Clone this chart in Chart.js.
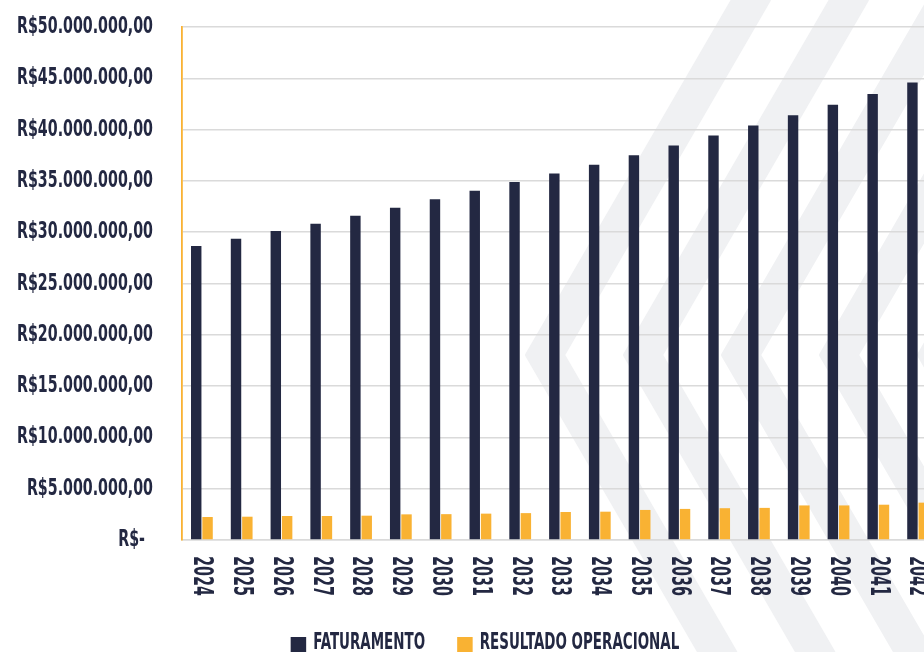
<!DOCTYPE html>
<html>
<head>
<meta charset="utf-8">
<script src="https://cdn.jsdelivr.net/npm/chart.js@4.4.1/dist/chart.umd.min.js"></script>
<style>
  html, body { margin: 0; padding: 0; background: #fff; overflow: hidden; }
  #chart { display: block; }
</style>
</head>
<body>
<canvas id="chart" width="940" height="652"></canvas>
<script>
const years = ["2024", "2025", "2026", "2027", "2028", "2029", "2030", "2031", "2032", "2033",
    "2034", "2035", "2036", "2037", "2038", "2039", "2040", "2041", "2042"];
const faturamento = [28650000, 29370000, 30120000, 30830000, 31600000, 32390000, 33200000, 34050000,
    34900000, 35730000, 36580000, 37510000, 38450000, 39420000, 40400000, 41410000, 42430000,
    43480000, 44580000];
const resultado = [2240000, 2270000, 2340000, 2340000, 2370000, 2500000, 2520000, 2570000, 2620000,
    2730000, 2760000, 2930000, 3030000, 3100000, 3130000, 3370000, 3370000, 3440000, 3640000];
const seriesNames = ["FATURAMENTO", "RESULTADO OPERACIONAL"];
const yMax = 50000000;
const yStep = 5000000;

const navy = "#232842";
const orange = "#f9b233";
const gridGray = "#dadada";
const fontFamily = "'DejaVu Sans Condensed', 'DejaVu Sans', sans-serif";

function formatReais(v) {
    if (v === 0) return "R$-";
    const parts = [];
    let n = Math.round(v);
    while (n >= 1000) {
        parts.unshift(String(n % 1000).padStart(3, "0"));
        n = Math.floor(n / 1000);
    }
    parts.unshift(String(n));
    return "R$" + parts.join(".") + ",00";
}

// draws text squeezed horizontally so it looks like a condensed display face
function narrowText(ctx, text, x, y, sx, align) {
    const w = ctx.measureText(text).width * sx;
    const left = align === "right" ? x - w : x;
    ctx.save();
    ctx.translate(left, y);
    ctx.scale(sx, 1);
    ctx.textAlign = "left";
    ctx.fillText(text, 0, 0);
    ctx.restore();
}

// light chevron watermark behind the plot
const watermark = {
    id: "watermark",
    beforeDraw(chart) {
        const { ctx, width, height } = chart;
        ctx.save();
        ctx.fillStyle = "#fff";
        ctx.fillRect(0, 0, width, height);
        ctx.fillStyle = "#f0f1f3";
        ctx.strokeStyle = "#f0f1f3";
        ctx.lineJoin = "round";
        ctx.lineWidth = 4;
        const tipY = 355, slope = 0.58, band = 36;
        for (let k = 0; k < 5; k++) {
            const x0 = 527 + k * 98;
            ctx.beginPath();
            ctx.moveTo(x0, tipY);
            ctx.lineTo(x0 + slope * tipY, 0);
            ctx.lineTo(x0 + band + slope * tipY, 0);
            ctx.lineTo(x0 + band, tipY);
            ctx.lineTo(x0 + band + slope * (height - tipY), height);
            ctx.lineTo(x0 + slope * (height - tipY), height);
            ctx.closePath();
            ctx.fill();
            ctx.stroke();
        }
        ctx.restore();
    }
};

// axis labels and legend in a tall condensed style
const labelsPlugin = {
    id: "condensedLabels",
    afterDraw(chart) {
        const { ctx, chartArea } = chart;
        const x = chart.scales.x;
        const y = chart.scales.y;
        ctx.save();
        ctx.fillStyle = navy;
        ctx.textBaseline = "alphabetic";

        // y axis: money labels
        ctx.font = `bold 23px ${fontFamily}`;
        const sy = 136 / ctx.measureText(formatReais(yMax)).width;
        y.ticks.forEach((t) => {
            const py = y.getPixelForValue(t.value);
            const label = formatReais(t.value);
            const right = t.value === 0 ? chartArea.left - 37 : chartArea.left - 29;
            narrowText(ctx, label, right, py + 6, sy, "right");
        });

        // x axis: years, rotated clockwise
        ctx.font = `bold 26px ${fontFamily}`;
        const sxYear = 40 / ctx.measureText(years[0]).width;
        years.forEach((yr, i) => {
            ctx.save();
            ctx.translate(x.getPixelForValue(i) + 1.8 - 9.5, chartArea.bottom + 16);
            ctx.rotate(Math.PI / 2);
            narrowText(ctx, yr, 0, 0, sxYear, "left");
            ctx.restore();
        });

        // legend
        ctx.font = `bold 23px ${fontFamily}`;
        const sl = 112 / ctx.measureText(seriesNames[0]).width;
        const box = 15.5, gap = 7, spacing = 32;
        const items = chart.data.datasets.map((ds) => ({
            text: ds.label,
            color: ds.backgroundColor,
            w: ctx.measureText(ds.label).width * sl,
        }));
        const total = items.reduce((s, it) => s + box + gap + it.w, 0) + spacing * (items.length - 1);
        let cx = 485 - total / 2;
        const baseY = chart.height - 3;
        items.forEach((it) => {
            ctx.fillStyle = it.color;
            ctx.fillRect(cx, baseY - 12, box, box);
            ctx.fillStyle = navy;
            narrowText(ctx, it.text, cx + box + gap, baseY, sl, "left");
            cx += box + gap + it.w + spacing;
        });
        ctx.restore();
    }
};

new Chart(document.getElementById("chart").getContext("2d"), {
    type: "bar",
    data: {
        labels: years,
        datasets: [
            {
                label: seriesNames[0],
                data: faturamento,
                backgroundColor: navy,
                borderWidth: 0,
                categoryPercentage: 0.57,
                barPercentage: 0.92,
            },
            {
                label: seriesNames[1],
                data: resultado,
                backgroundColor: orange,
                borderWidth: 0,
                categoryPercentage: 0.57,
                barPercentage: 0.92,
            },
        ],
    },
    options: {
        responsive: false,
        animation: false,
        layout: { padding: { left: 0, right: 2, top: 27, bottom: 0 } },
        scales: {
            x: {
                grid: { display: false, drawTicks: false },
                border: { color: gridGray, width: 1.5 },
                ticks: { display: false },
                afterFit: (s) => { s.height = 112; },
            },
            y: {
                min: 0,
                max: yMax,
                ticks: { stepSize: yStep, display: false },
                grid: { color: gridGray, lineWidth: 1.5, drawTicks: false },
                border: { color: orange, width: 1.8 },
                afterFit: (s) => { s.width = 182; },
            },
        },
        plugins: {
            legend: { display: false },
            tooltip: { enabled: false },
        },
    },
    plugins: [watermark, labelsPlugin],
});
</script>
</body>
</html>
